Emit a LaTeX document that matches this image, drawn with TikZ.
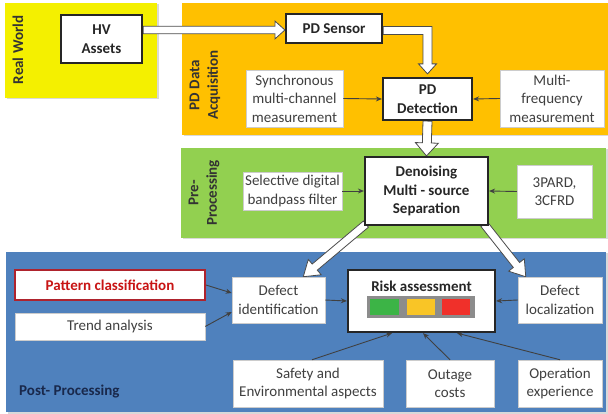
\documentclass[tikz,border=0pt]{standalone}
\usepackage{fontspec}
\setmainfont{Carlito}
\usetikzlibrary{calc,shadows,arrows.meta}
\definecolor{pyellow}{RGB}{244,240,0}
\definecolor{porange}{RGB}{255,192,0}
\definecolor{pgreen}{RGB}{146,208,80}
\definecolor{pblue}{RGB}{79,129,189}
\definecolor{txtgray}{RGB}{64,64,64}
\definecolor{darkred}{RGB}{175,35,45}
\definecolor{redtxt}{RGB}{200,20,20}
\definecolor{navy}{RGB}{25,40,75}
\definecolor{rgreen}{RGB}{60,180,70}
\definecolor{ryellow}{RGB}{249,197,38}
\definecolor{rred}{RGB}{240,48,42}
\newcommand\fsz{\fontsize{15}{18.5}\selectfont}
\pgfdeclarelayer{bg}
\pgfdeclarelayer{mid}
\pgfsetlayers{bg,mid,main}
\tikzset{
  panel/.style={draw=none, drop shadow={shadow xshift=1.5pt,shadow yshift=-1.5pt,opacity=0.3}},
  mainbox/.style={draw=black!85, line width=2.2pt, fill=white, align=center,
    font=\fsz\bfseries, text=black!85, inner sep=0pt,
    drop shadow={shadow xshift=1pt, shadow yshift=-1pt, opacity=0.4}},
  sidebox/.style={draw=black!20, line width=0.5pt, fill=white, align=center,
    font=\fsz, text=txtgray, inner sep=0pt},
  thinarrow/.style={draw=black!75, line width=0.9pt, -{Stealth[length=6pt,width=5pt]}},
  blockarrow/.style={draw=black!70, line width=0.8pt, fill=white, line join=miter},
  plabel/.style={font=\fsz\bfseries, text=black!80, align=center, inner sep=0pt},
}
\newcommand\blkarrow[5]{%
  \coordinate (ba-n) at ($(#2)!#5!(#1)$);
  \draw[blockarrow] ($(#1)!#3!90:(#2)$) -- ($(ba-n)!#3!90:(#2)$) -- ($(ba-n)!#4!90:(#2)$)
    -- (#2) -- ($(ba-n)!#4!-90:(#2)$) -- ($(ba-n)!#3!-90:(#2)$) -- ($(#1)!#3!-90:(#2)$) -- cycle;}
\begin{document}
\begin{tikzpicture}[x=1pt,y=-1pt]
\useasboundingbox (0,0) rectangle (608,414);
% panels
\begin{pgfonlayer}{bg}
  \fill[panel, fill=pyellow] (5,3) rectangle (157,98);
  \fill[panel, fill=porange] (182,3) rectangle (608,135);
  \fill[panel, fill=pgreen] (181,148) rectangle (606,238);
  \fill[panel, fill=pblue] (6,252) rectangle (606,412);
\end{pgfonlayer}
% labels
\node[plabel, rotate=90] (rw) at (18,50) {Real World};
\node[plabel, rotate=90] (pda) at (205,85) {PD Data\\Acquisition};
\node[plabel, rotate=90] (pre) at (204,193) {Pre-\\Processing};
\node[plabel, anchor=west, text=navy] (post) at (19,392) {Post- Processing};
% main boxes
\node[mainbox, minimum width=81pt, minimum height=48pt] (hv) at (101.5,39) {HV\\Assets};
\node[mainbox, minimum width=96pt, minimum height=29pt] (sen) at (334,28.5) {PD Sensor};
\node[mainbox, minimum width=89pt, minimum height=42pt] (det) at (427.5,99) {PD\\Detection};
\node[mainbox, minimum width=123pt, minimum height=68pt] (den) at (426.5,191) {Denoising\\Multi - source\\Separation};
\node[mainbox, minimum width=147pt, minimum height=62pt] (risk) at (421.5,301) {};
\node[font=\fsz\bfseries, text=black!85, inner sep=0pt] (risklbl) at ($(risk.center)+(0,-15)$) {Risk assessment};
% side boxes
\node[sidebox, minimum width=97pt, minimum height=57pt] (sync) at (294.5,98.5) {Synchronous\\multi-channel\\measurement};
\node[sidebox, minimum width=104pt, minimum height=57pt] (mfreq) at (552,98.5) {Multi-\\frequency\\measurement};
\node[sidebox, minimum width=99pt, minimum height=38pt] (sel) at (292.5,191) {Selective digital\\bandpass filter};
\node[sidebox, minimum width=75pt, minimum height=53pt] (pard) at (554.5,191.5) {3PARD,\\3CFRD};
\node[sidebox, minimum width=93pt, minimum height=46pt] (defid) at (278.5,300) {Defect\\identification};
\node[sidebox, minimum width=84pt, minimum height=46pt] (defloc) at (560,300) {Defect\\localization};
\node[sidebox, draw=darkred, line width=1.8pt, minimum width=190pt, minimum height=30pt,
      font=\fsz\bfseries, text=redtxt,
      drop shadow={shadow xshift=0.8pt, shadow yshift=-0.8pt, opacity=0.35}] (pat) at (110,285) {Pattern classification};
\node[sidebox, minimum width=190pt, minimum height=27pt] (trend) at (110,326.5) {Trend analysis};
\node[sidebox, minimum width=150pt, minimum height=47pt] (safety) at (308,383.5) {Safety and\\Environmental aspects};
\node[sidebox, minimum width=88pt, minimum height=47pt] (outage) at (450,383.5) {Outage\\costs};
\node[sidebox, minimum width=84pt, minimum height=47pt] (oper) at (560,383.5) {Operation\\experience};
% risk colour bar
\fill[black!45] ($(risk.center)+(-54.5,-5)$) rectangle ($(risk.center)+(53.5,17)$);
\fill[rgreen] ($(risk.center)+(-51.5,-2)$) rectangle ($(risk.center)+(-22.5,14)$);
\fill[ryellow] ($(risk.center)+(-14.5,-2)$) rectangle ($(risk.center)+(13.5,14)$);
\fill[rred] ($(risk.center)+(20.5,-2)$) rectangle ($(risk.center)+(48.5,14)$);
% block arrows
\begin{pgfonlayer}{mid}
  \coordinate (h1) at (hv.east |- sen.west);
  \coordinate (h2) at ($(sen.west)+(0,1.5)$);
  \coordinate (h1b) at ($(h1)+(0,1.5)$);
  \blkarrow{h1b}{h2}{3.8pt}{9pt}{10pt}
  \coordinate (eT) at ($(sen.east)+(0,-2)$);
  \coordinate (eB) at ($(sen.east)+(0,6)$);
  \coordinate (vR) at ($(det.north)+(4.5,0)$);
  \coordinate (vL) at ($(det.north)+(-4.5,0)$);
  \coordinate (tip) at ($(det.north)+(0,-3)$);
  \coordinate (neck) at ($(tip)+(0,-10)$);
  \draw[blockarrow] (eT) -- (vR |- eT) -- (vR |- neck) -- ($(neck)+(9,0)$) -- (tip)
     -- ($(neck)+(-9,0)$) -- (vL |- neck) -- (vL |- eB) -- (eB) -- cycle;
  \coordinate (d1) at (det.south);
  \coordinate (d2) at (den.north);
  \blkarrow{d1}{d2}{4.5pt}{11.5pt}{13pt}
  \coordinate (dl1) at ($(den.south west)+(2,-2)$);
  \coordinate (dl2) at ($(defid.north east)+(-22,0)$);
  \blkarrow{dl1}{dl2}{4pt}{10pt}{15pt}
  \coordinate (dr1) at ($(den.south east)+(-5,-2)$);
  \coordinate (dr2) at ($(defloc.north west)+(8,0)$);
  \blkarrow{dr1}{dr2}{4pt}{10pt}{15pt}
\end{pgfonlayer}
% thin arrows
\draw[thinarrow] (sync.east) -- (det.west);
\draw[thinarrow] (mfreq.west) -- (det.east);
\draw[thinarrow] (sel.east) -- (den.west);
\draw[thinarrow] (pard.west) -- (den.east);
\draw[thinarrow] (pat.east) -- ($(defid.west)+(0,-7)$);
\draw[thinarrow] (trend.east) -- ($(defid.west)+(0,12)$);
\draw[thinarrow] (defid.east) -- (risk.west);
\draw[thinarrow] (defloc.west) -- (risk.east);
\draw[thinarrow] ($(safety.north)+(4,0)$) -- ($(risk.south)+(-29.5,0)$);
\draw[thinarrow] (outage.north) -- ($(risk.south)+(1.5,0)$);
\draw[thinarrow] (oper.north) -- ($(risk.south)+(35.5,0)$);
\end{tikzpicture}
\end{document}
